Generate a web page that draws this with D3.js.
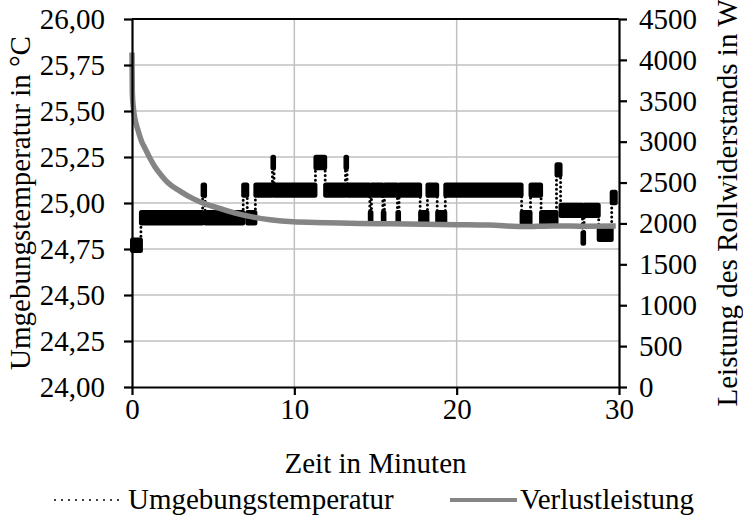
<!DOCTYPE html>
<html>
<head>
<meta charset="utf-8">
<script src="https://cdn.jsdelivr.net/npm/d3@7"></script>
<style>
  body { margin: 0; background: #fff; }
  text { font-family: "Liberation Serif", "DejaVu Serif", serif; fill: #000; }
</style>
</head>
<body>
<svg id="chart" width="743" height="517"></svg>
<script>
// tick values
const timeTicks = [0, 10, 20, 30];
const tempTicks = [24, 24.25, 24.5, 24.75, 25, 25.25, 25.5, 25.75, 26];
const powerTicks = [0, 500, 1000, 1500, 2000, 2500, 3000, 3500, 4000, 4500];

// Umgebungstemperatur: level changes (time in min), last entry = end of record
const tempTimes = [0, 0.55, 4.35, 4.5, 6.85, 7.1, 7.6, 8.65, 8.75, 11.3, 11.9, 13.15, 13.25,
  14.65, 14.75, 15.45, 15.55, 16.35, 16.45, 17.75, 18.2, 18.8, 19.3, 24.0, 24.55, 25.2,
  26.15, 26.4, 27.75, 27.85, 28.75, 29.55, 29.8];
const tempLevels = [24.77, 24.92, 25.07, 24.92, 25.07, 24.92, 25.07, 25.22, 25.07, 25.22, 25.07, 25.22,
  25.07, 24.92, 25.07, 24.92, 25.07, 24.92, 25.07, 24.92, 25.07, 24.92, 25.07, 24.92, 25.07,
  24.92, 25.18, 24.96, 24.81, 24.96, 24.83, 25.03];

// Verlustleistung in W
const powerTimes = [0, 0.02, 0.08, 0.18, 0.37, 0.6, 0.8, 1.1, 1.42, 1.8, 2.2, 3, 3.7, 4.5, 5.3,
  6.3, 7.4, 8.5, 9.9, 12, 14, 16, 18, 20, 22, 24, 26, 28, 29.8];
const powerValues = [4090, 3600, 3420, 3280, 3140, 3000, 2920, 2800, 2690, 2590, 2500, 2390, 2310,
  2240, 2190, 2130, 2080, 2045, 2020, 2010, 2000, 1995, 1990, 1985, 1980, 1962, 1970, 1965, 1968];

const margin = { top: 19, right: 124, bottom: 130, left: 132 };
const width = 743 - margin.left - margin.right;
const height = 517 - margin.top - margin.bottom;
const fontSize = 29;
const gray = "#858585";

const svg = d3.select("#chart");
const g = svg.append("g")
  .attr("transform", "translate(" + margin.left + "," + margin.top + ")");

const x = d3.scaleLinear().domain([0, 30]).range([0, width]);
const yTemp = d3.scaleLinear().domain([24, 26]).range([height, 0]);
const yPower = d3.scaleLinear().domain([0, 4500]).range([height, 0]);

const de = d3.formatLocale({ decimal: ",", thousands: ".", grouping: [3], currency: ["", " €"] });

// gridlines
g.selectAll(".hgrid")
  .data(tempTicks.slice(1, -1))
  .enter().append("line")
  .attr("x1", 0).attr("x2", width)
  .attr("y1", d => yTemp(d)).attr("y2", d => yTemp(d))
  .attr("stroke", "#c0c0c0").attr("stroke-width", 1.5);
g.selectAll(".vgrid")
  .data(timeTicks.slice(1, -1))
  .enter().append("line")
  .attr("x1", d => x(d)).attr("x2", d => x(d))
  .attr("y1", 0).attr("y2", height)
  .attr("stroke", "#c0c0c0").attr("stroke-width", 1.5);

// temperature: noisy bands drawn as blocks, transitions as dots
const segs = tempLevels.map((v, i) => ({ t0: tempTimes[i], t1: tempTimes[i + 1], v: v }));
const spread = 0.042;
g.selectAll(".band")
  .data(segs)
  .enter().append("rect")
  .attr("x", d => x(d.t0) - 2)
  .attr("width", d => x(d.t1) - x(d.t0) + 4)
  .attr("y", d => yTemp(d.v + spread))
  .attr("height", d => yTemp(d.v - spread) - yTemp(d.v + spread))
  .attr("rx", 2.5)
  .attr("fill", "#000");

const stepPts = segs.map(d => [d.t0, d.v]).concat([[tempTimes[tempTimes.length - 1], tempLevels[tempLevels.length - 1]]]);
g.append("path")
  .datum(stepPts)
  .attr("fill", "none")
  .attr("stroke", "#000")
  .attr("stroke-width", 3)
  .attr("stroke-linecap", "round")
  .attr("stroke-dasharray", "0,4.5")
  .attr("d", d3.line().x(d => x(d[0])).y(d => yTemp(d[1])).curve(d3.curveStepAfter));

// power line
g.append("path")
  .datum(powerTimes.map((t, i) => [t, powerValues[i]]))
  .attr("fill", "none")
  .attr("stroke", gray)
  .attr("stroke-width", 5.5)
  .attr("stroke-linejoin", "round")
  .attr("d", d3.line().x(d => x(d[0])).y(d => yPower(d[1])).curve(d3.curveMonotoneX));

// axes
function styleAxis(sel) {
  sel.select(".domain").attr("stroke", "#000").attr("stroke-width", 2.2);
  sel.selectAll(".tick line").attr("stroke", "#000").attr("stroke-width", 2.2);
  sel.selectAll("text").style("font-size", fontSize + "px")
    .style("font-family", "'Liberation Serif', serif");
}

g.append("line")
  .attr("x1", 0).attr("x2", width).attr("y1", 0).attr("y2", 0)
  .attr("stroke", "#000").attr("stroke-width", 2.2);

g.append("g")
  .call(d3.axisLeft(yTemp).tickValues(tempTicks).tickSize(8).tickSizeOuter(0)
    .tickPadding(19).tickFormat(de.format(".2f")))
  .call(styleAxis);

g.append("g")
  .attr("transform", "translate(" + width + ",0)")
  .call(d3.axisRight(yPower).tickValues(powerTicks).tickSize(8).tickSizeOuter(0)
    .tickPadding(12).tickFormat(d3.format("d")))
  .call(styleAxis);

g.append("g")
  .attr("transform", "translate(0," + height + ")")
  .call(d3.axisBottom(x).tickValues(timeTicks).tickSize(8).tickSizeOuter(0)
    .tickPadding(3).tickFormat(d3.format("d")))
  .call(styleAxis);

// axis titles
svg.append("text")
  .attr("transform", "translate(30," + (margin.top + height / 2) + ") rotate(-90)")
  .attr("text-anchor", "middle")
  .style("font-size", fontSize + "px")
  .text("Umgebungstemperatur in °C");

svg.append("text")
  .attr("transform", "translate(737," + (margin.top + height / 2) + ") rotate(-90)")
  .attr("text-anchor", "middle")
  .style("font-size", fontSize + "px")
  .text("Leistung des Rollwiderstands in W");

svg.append("text")
  .attr("x", margin.left + width / 2)
  .attr("y", 473)
  .attr("text-anchor", "middle")
  .style("font-size", fontSize + "px")
  .text("Zeit in Minuten");

// legend
const legY = 500;
svg.append("line")
  .attr("x1", 55).attr("x2", 124).attr("y1", legY).attr("y2", legY)
  .attr("stroke", "#000").attr("stroke-width", 2)
  .attr("stroke-linecap", "round").attr("stroke-dasharray", "0,7");
svg.append("text")
  .attr("x", 128).attr("y", 509)
  .style("font-size", fontSize + "px")
  .text("Umgebungstemperatur");

svg.append("line")
  .attr("x1", 450).attr("x2", 517).attr("y1", legY).attr("y2", legY)
  .attr("stroke", gray).attr("stroke-width", 4);
svg.append("text")
  .attr("x", 520).attr("y", 509)
  .style("font-size", fontSize + "px")
  .text("Verlustleistung");
</script>
</body>
</html>
